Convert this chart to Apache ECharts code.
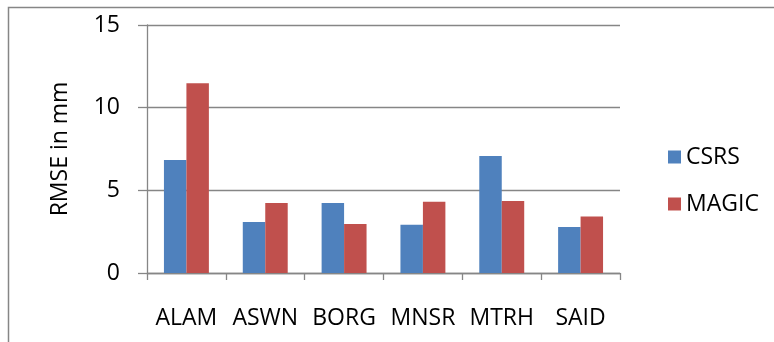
<!DOCTYPE html>
<html>
<head>
<meta charset="utf-8">
<script src="https://cdn.jsdelivr.net/npm/echarts@6/dist/echarts.min.js"></script>
<style>
  html, body { margin: 0; padding: 0; background: #fff; }
  #chart { width: 774px; height: 342px; }
</style>
</head>
<body>
<div id="chart"></div>
<script>
// Stations and RMSE (mm) per processing service
const stations = ['ALAM', 'ASWN', 'BORG', 'MNSR', 'MTRH', 'SAID'];
const csrs = [6.84, 3.08, 4.23, 2.92, 7.08, 2.78];
const magic = [11.47, 4.23, 2.96, 4.31, 4.35, 3.42];
const yTicks = { min: 0, max: 15, interval: 5 };

const FONT = 'Open Sans';
const FS = 23;
const GRAY = '#868686';

const chart = echarts.init(document.getElementById('chart'), null, { renderer: 'canvas' });

chart.setOption({
  animation: false,
  backgroundColor: '#ffffff',
  textStyle: { fontFamily: FONT, color: '#000' },
  grid: { left: 147, right: 154, top: 25, bottom: 69, containLabel: false },
  legend: {
    orient: 'vertical',
    left: 663,
    top: 139,
    itemWidth: 13,
    itemHeight: 13,
    itemGap: 21,
    icon: 'rect',
    textStyle: { fontFamily: FONT, fontSize: FS, color: '#000', lineHeight: 26, padding: [0, 0, 0, 0] },
    data: ['CSRS', 'MAGIC']
  },
  xAxis: {
    type: 'category',
    data: stations,
    axisLine: { lineStyle: { color: GRAY, width: 1.3 } },
    axisTick: { show: true, length: 7, lineStyle: { color: GRAY, width: 1.3 } },
    axisLabel: { fontFamily: FONT, fontSize: FS, color: '#000', margin: 34, interval: 0 },
    splitLine: { show: false }
  },
  yAxis: {
    type: 'value',
    min: yTicks.min,
    max: yTicks.max,
    interval: yTicks.interval,
    name: 'RMSE in mm',
    nameLocation: 'middle',
    nameRotate: 90,
    nameGap: 75,
    nameTextStyle: { fontFamily: FONT, fontSize: FS, color: '#000' },
    axisLine: { show: true, lineStyle: { color: GRAY, width: 1.3 } },
    axisTick: { show: true, length: 9, lineStyle: { color: GRAY, width: 1.3 } },
    axisLabel: { fontFamily: FONT, fontSize: FS, color: '#000', margin: 27 },
    splitLine: { show: true, lineStyle: { color: GRAY, width: 1.3 } }
  },
  series: [
    {
      name: 'CSRS',
      type: 'bar',
      data: csrs,
      itemStyle: { color: '#4F81BD' },
      barGap: '0%',
      barCategoryGap: '43%'
    },
    {
      name: 'MAGIC',
      type: 'bar',
      data: magic,
      itemStyle: { color: '#C0504D' },
      barGap: '0%',
      barCategoryGap: '43%'
    }
  ],
  graphic: [
    // chart area frame (top and left edges)
    {
      type: 'polyline',
      silent: true,
      shape: { points: [[8.5, 342], [8.5, 7.5], [774, 7.5]] },
      style: { stroke: GRAY, lineWidth: 1.5, fill: null }
    }
  ]
});
</script>
</body>
</html>
